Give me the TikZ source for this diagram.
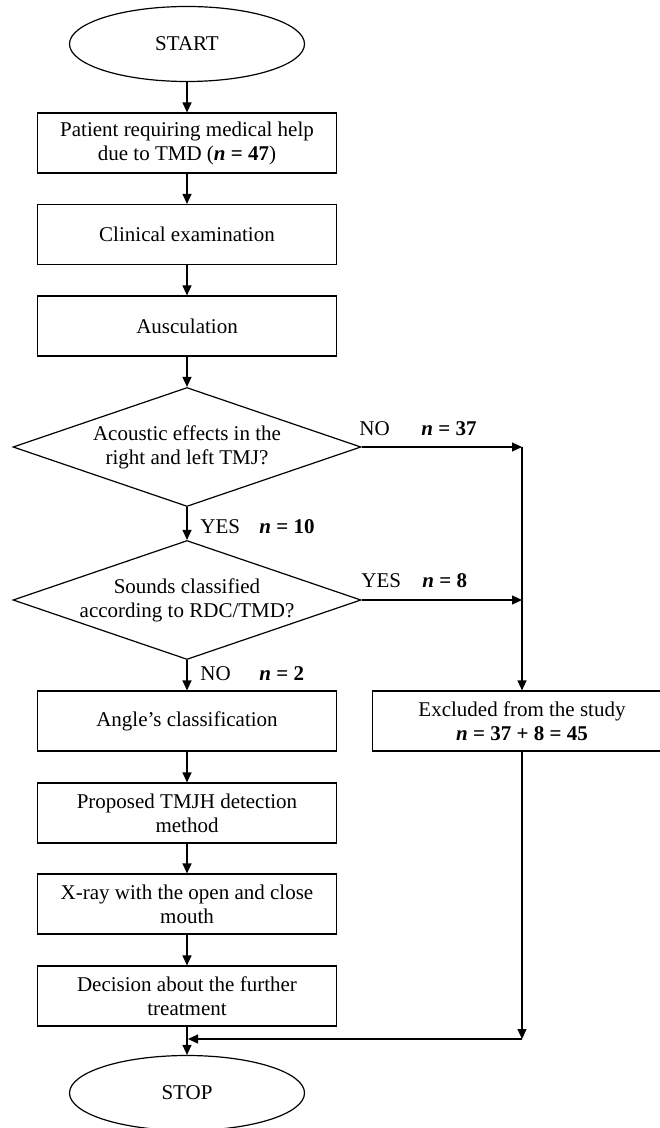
\documentclass[tikz,border=0pt]{standalone}
\usepackage{fontspec}
\setmainfont{Liberation Serif}
\usetikzlibrary{shapes.geometric,arrows.meta}

\tikzset{
  stepbox/.style={draw, line width=0.6pt, minimum width=149.5pt, minimum height=30pt, align=center, inner sep=2pt},
  term/.style={draw, ellipse, line width=0.6pt, minimum width=117.5pt, minimum height=37.5pt},
  query/.style={draw, diamond, aspect=2.9, line width=0.6pt, minimum width=174pt, minimum height=59.5pt, inner sep=-1pt, align=center},
  arr/.style={line width=0.6pt, -{Triangle[length=5pt,width=4.5pt]}},
  tag/.style={anchor=west, inner sep=0pt}
}

\newcommand{\nval}[1]{\textbf{\textit{n} = #1}}

\begin{document}
\begin{tikzpicture}[x=0.5pt,y=-0.5pt,font=\fontsize{10.5}{12}\selectfont]
  \useasboundingbox (0,0) rectangle (659,1128);

  % main column
  \node[term] (start) at (187,44) {START};
  \node[stepbox] (patient) at (187,143) {Patient requiring medical help\\due to TMD (\nval{47})};
  \node[stepbox] (clinic) at (187,234.5) {Clinical examination};
  \node[stepbox] (ausc) at (187,326) {Ausculation};
  \node[query] (acoustic) at (187,447) {Acoustic effects in the\\right and left TMJ?};
  \node[query] (sounds) at (187,600) {Sounds classified\\according to RDC/TMD?};
  \node[stepbox] (angle) at (187,721) {Angle's classification};
  \node[stepbox] (method) at (187,813) {Proposed TMJH detection\\method};
  \node[stepbox] (xray) at (187,904) {X-ray with the open and close\\mouth};
  \node[stepbox] (decide) at (187,996) {Decision about the further\\treatment};
  \node[term] (stop) at (187,1093) {STOP};

  % excluded branch
  \node[stepbox] (excl) at (522,721) {Excluded from the study\\\nval{37 + 8 = 45}};
  \coordinate (noj) at (522,447);
  \coordinate (yesj) at (522,600);
  \coordinate (back) at (522,1039);
  \coordinate (merge) at (188,1039);

  \draw[arr] (start) -- (patient);
  \draw[arr] (patient) -- (clinic);
  \draw[arr] (clinic) -- (ausc);
  \draw[arr] (ausc) -- (acoustic);
  \draw[arr] (acoustic) -- (sounds);
  \draw[arr] (sounds) -- (angle);
  \draw[arr] (angle) -- (method);
  \draw[arr] (method) -- (xray);
  \draw[arr] (xray) -- (decide);
  \draw[arr] (decide) -- (stop);

  \draw[arr] (acoustic.east) -- (noj);
  \draw[arr] (sounds.east) -- (yesj);
  \draw[arr] (noj) -- (excl.north);
  \draw[arr] (excl.south) -- (back);
  \draw[arr] (back) -- (merge);

  % branch labels
  \node[tag] (no1) at (359,429) {NO};
  \node[tag] (no1n) at (421,429) {\nval{37}};
  \node[tag] (yes1) at (200,527) {YES};
  \node[tag] (yes1n) at (259,527) {\nval{10}};
  \node[tag] (yes2) at (361,581) {YES};
  \node[tag] (yes2n) at (422,581) {\nval{8}};
  \node[tag] (no2) at (200,674) {NO};
  \node[tag] (no2n) at (259,674) {\nval{2}};
\end{tikzpicture}
\end{document}
